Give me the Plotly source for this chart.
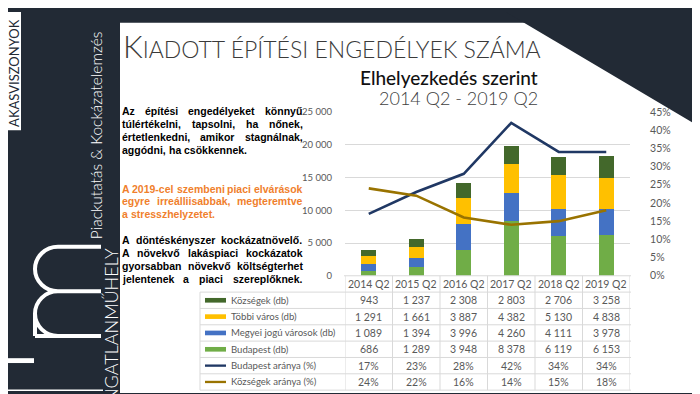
import plotly.graph_objects as go

# ---------------- data ----------------
categories = ["2014 Q2", "2015 Q2", "2016 Q2", "2017 Q2", "2018 Q2", "2019 Q2"]
kozsegek = [943, 1237, 2308, 2803, 2706, 3258]
tobbi_varos = [1291, 1661, 3887, 4382, 5130, 4838]
megyei_jogu = [1089, 1394, 3996, 4260, 4111, 3978]
budapest = [686, 1289, 3948, 8378, 6119, 6153]
budapest_arany = [17, 23, 28, 42, 34, 34]
kozsegek_arany = [24, 22, 16, 14, 15, 18]
left_ticks = [0, 5000, 10000, 15000, 20000, 25000]
right_ticks = [0, 5, 10, 15, 20, 25, 30, 35, 40, 45]

series_names = ["Községek (db)", "Többi város (db)", "Megyei jogú városok (db)",
                "Budapest (db)", "Budapest aránya (%)", "Községek aránya (%)"]

# ---------------- styles ----------------
W, H = 700, 394
DARK = "#222a35"
C_KOZ = "#43682b"
C_TOB = "#ffc000"
C_MEG = "#4472c4"
C_BUD = "#70ad47"
C_BUDA = "#203864"
C_KOZA = "#997300"
GRID = "#d9d9d9"
TXT = "#595959"
CAL = "Lato"


def X(px):
    return px / W


def Y(py):
    return 1 - py / H


def fmt(v):
    return f"{v:,}".replace(",", " ")


fig = go.Figure()

stack = [(series_names[3], budapest, C_BUD), (series_names[2], megyei_jogu, C_MEG),
         (series_names[1], tobbi_varos, C_TOB), (series_names[0], kozsegek, C_KOZ)]
for name, vals, col in stack:
    fig.add_trace(go.Bar(x=categories, y=vals, name=name, marker=dict(color=col, line=dict(width=0))))

fig.add_trace(go.Scatter(x=categories, y=budapest_arany, name=series_names[4], yaxis="y2",
                         mode="lines", line=dict(color=C_BUDA, width=2.6)))
fig.add_trace(go.Scatter(x=categories, y=kozsegek_arany, name=series_names[5], yaxis="y2",
                         mode="lines", line=dict(color=C_KOZA, width=2.6)))

PL, PR, PT, PB = 337, 622, 101, 270

shapes = []
ann = []

# background panels
shapes.append(dict(type="rect", xref="paper", yref="paper", x0=X(112), x1=X(690), y0=Y(391), y1=Y(9),
                   fillcolor="white", line=dict(width=0), layer="below"))
shapes.append(dict(type="path", xref="paper", yref="paper",
                   path=f"M {X(498)},{Y(-2)} L {X(700)},{Y(-2)} L {X(700)},{Y(113)} L {X(686)},{Y(113)} Z",
                   fillcolor=DARK, line=dict(width=0), layer="below"))
shapes.append(dict(type="rect", xref="paper", yref="paper", x0=X(687), x1=X(700), y0=Y(116), y1=Y(-2),
                   fillcolor="white", line=dict(width=0), layer="below"))
shapes.append(dict(type="rect", xref="paper", yref="paper", x0=X(0), x1=X(13), y0=Y(120), y1=Y(-2),
                   fillcolor="white", line=dict(width=0), layer="below"))
shapes.append(dict(type="rect", xref="paper", yref="paper", x0=X(-2), x1=X(26), y0=Y(360), y1=Y(355),
                   fillcolor="white", line=dict(width=0), layer="below"))
shapes.append(dict(type="line", xref="paper", yref="paper", x0=X(0), x1=X(95), y0=Y(388), y1=Y(388),
                   line=dict(color="white", width=1.5), layer="below"))


# logo "m" (rotated) drawn as strokes
def P(x, y):
    return f"{X(x)},{Y(y)}"


r = 23
k = 0.5523 * r
cx = 50
mpath = (f"M {P(93, 332)} L {P(cx, 332)} "
         f"C {P(cx - k, 332)} {P(cx - r, 309 + k)} {P(cx - r, 309)} "
         f"C {P(cx - r, 309 - k)} {P(cx - k, 286)} {P(cx, 286)} L {P(93, 286)} "
         f"M {P(cx, 286)} "
         f"C {P(cx - k, 286)} {P(cx - r, 263 + k)} {P(cx - r, 263)} "
         f"C {P(cx - r, 263 - k)} {P(cx - k, 240)} {P(cx, 240)} L {P(93, 240)} "
         f"M {P(cx - r, 332)} L {P(cx - r + 0.01, 309)}")
shapes.append(dict(type="path", xref="paper", yref="paper", path=mpath,
                   line=dict(color="white", width=4), layer="below"))
shapes.append(dict(type="line", xref="paper", yref="paper", x0=X(cx - r), x1=X(93), y0=Y(332), y1=Y(332),
                   line=dict(color="white", width=4), layer="below"))

# left band texts
ann.append(dict(text="AKASVISZONYOK", x=X(6.5), y=Y(119), xref="paper", yref="paper", xanchor="center",
                yanchor="bottom", textangle=-90, showarrow=False,
                font=dict(family=CAL, size=13, color=DARK)))
ann.append(dict(text="Piackutatás &amp; Kockázatelemzés", x=X(88), y=Y(125), xref="paper", yref="paper",
                xanchor="center", yanchor="middle", textangle=-90, showarrow=False,
                font=dict(family=CAL, size=15.5, color="white", weight=300)))
ann.append(dict(text="INGATLANMŰHELY", x=X(103.5), y=Y(239), xref="paper", yref="paper",
                xanchor="center", yanchor="top", textangle=-90, showarrow=False,
                font=dict(family=CAL, size=18, color="white", weight=300)))
ann.append(dict(text="FORRÁS: KSH.HU", x=X(694), y=Y(58), xref="paper", yref="paper",
                xanchor="center", yanchor="middle", textangle=-90, showarrow=False,
                font=dict(family=CAL, size=13, color="#2f6db5")))

# titles
ann.append(dict(text="<span style='font-size:31px'>K</span>IADOTT ÉPÍTÉSI ENGEDÉLYEK SZÁMA",
                x=X(113), y=Y(33), xref="paper", yref="paper", xanchor="left", yanchor="middle",
                showarrow=False, font=dict(family=CAL, size=23, color="#3a3a3a", weight=300)))
ann.append(dict(text="Elhelyezkedés szerint", x=X(532), y=Y(65), xref="paper", yref="paper",
                xanchor="right", yanchor="middle", showarrow=False,
                font=dict(family=CAL, size=19, color="#111111", weight=500)))
ann.append(dict(text="2014 Q2 - 2019 Q2", x=X(532), y=Y(87), xref="paper", yref="paper",
                xanchor="right", yanchor="middle", showarrow=False,
                font=dict(family=CAL, size=18, color="#404040", weight=300)))

# justified left text (Arial Bold metrics)
AW = {' ': 278, 'a': 556, 'b': 611, 'c': 556, 'd': 611, 'e': 556, 'f': 333, 'g': 611, 'h': 611, 'i': 278,
      'j': 278, 'k': 556, 'l': 278, 'm': 889, 'n': 611, 'o': 611, 'p': 611, 'q': 611, 'r': 389, 's': 556,
      't': 333, 'u': 611, 'v': 556, 'w': 778, 'x': 556, 'y': 556, 'z': 500, 'A': 722, ',': 278, '.': 278,
      '-': 333}
ACC = str.maketrans("éíúűőöóáü", "eiuuoooau")


def tw(s, fs):
    s = s.translate(ACC)
    return sum(AW.get(c, 556) for c in s) * fs / 1000


FS = 10.5
LX0, LX1 = 113, 293.5
paras = [
    ("#000000", [("Az építési engedélyeket könnyű", 100, True),
                 ("túlértékelni, tapsolni, ha nőnek,", 113.3, True),
                 ("értetlenkedni, amikor stagnálnak,", 126.7, True),
                 ("aggódni, ha csökkennek.", 140, False)]),
    ("#f07f2d", [("A 2019-cel szembeni piaci elvárások", 180, True),
                 ("egyre irreálliisabbak, megteremtve", 193.3, True),
                 ("a stresszhelyzetet.", 206.7, False)]),
    ("#000000", [("A döntéskényszer kockázatnövelő.", 233.3, True),
                 ("A növekvő lakáspiaci kockázatok", 246.7, True),
                 ("gyorsabban növekvő költségterhet", 260.2, True),
                 ("jelentenek a piaci szereplőknek.", 273.5, True)]),
]
for col, lines in paras:
    for text, yy, just in lines:
        words = text.split(" ")
        if just and len(words) > 1:
            tot = sum(tw(w, FS) for w in words)
            gap = (LX1 - LX0 - tot) / (len(words) - 1)
        else:
            gap = tw(" ", FS)
        xx = LX0
        for w in words:
            ann.append(dict(text=w, x=X(xx), y=Y(yy), xref="paper", yref="paper", xanchor="left",
                            yanchor="middle", showarrow=False, borderpad=0,
                            font=dict(family="Liberation Sans", size=FS, color=col, weight="bold")))
            xx += tw(w, FS) + gap

# ---------------- data table ----------------
ROW0 = 270
RH = 16.85
TL = 192
TR = 623
shapes.append(dict(type="line", xref="paper", yref="paper", x0=X(336), x1=X(TR), y0=Y(ROW0), y1=Y(ROW0),
                   line=dict(color=GRID, width=1)))
for kk in range(1, 8):
    yy = ROW0 + RH * kk
    shapes.append(dict(type="line", xref="paper", yref="paper", x0=X(TL), x1=X(TR), y0=Y(yy), y1=Y(yy),
                       line=dict(color=GRID, width=1)))
shapes.append(dict(type="line", xref="paper", yref="paper", x0=X(TL), x1=X(TL), y0=Y(ROW0 + RH),
                   y1=Y(ROW0 + 7 * RH), line=dict(color=GRID, width=1)))
for i in range(len(categories) + 1):
    shapes.append(dict(type="line", xref="x", yref="paper", x0=i - 0.5, x1=i - 0.5, y0=Y(ROW0),
                       y1=Y(ROW0 + 7 * RH), line=dict(color=GRID, width=1)))

# header row (category names)
for c in categories:
    ann.append(dict(text=c, x=c, y=Y(ROW0 + RH * 0.5), xref="x", yref="paper", xanchor="center",
                    yanchor="middle", showarrow=False, font=dict(family=CAL, size=10.5, color=TXT)))

rows = [(series_names[0], kozsegek, C_KOZ, "bar"), (series_names[1], tobbi_varos, C_TOB, "bar"),
        (series_names[2], megyei_jogu, C_MEG, "bar"), (series_names[3], budapest, C_BUD, "bar"),
        (series_names[4], budapest_arany, C_BUDA, "line"), (series_names[5], kozsegek_arany, C_KOZA, "line")]
for rr, (name, vals, col, kind) in enumerate(rows):
    yc = ROW0 + RH * (rr + 1.5)
    hh = 2.4 if kind == "bar" else 1.2
    shapes.append(dict(type="rect", xref="paper", yref="paper", x0=X(197), x1=X(218), y0=Y(yc + hh),
                       y1=Y(yc - hh), fillcolor=col, line=dict(width=0)))
    ann.append(dict(text=name, x=X(221), y=Y(yc), xref="paper", yref="paper", xanchor="left",
                    yanchor="middle", showarrow=False, font=dict(family=CAL, size=9.6, color=TXT)))
    for c, v in zip(categories, vals):
        t = f"{v}%" if kind == "line" else fmt(v)
        ann.append(dict(text=t, x=c, y=Y(yc), xref="x", yref="paper", xanchor="center",
                        yanchor="middle", showarrow=False, font=dict(family=CAL, size=10.5, color=TXT)))

fig.update_layout(
    width=W, height=H, margin=dict(l=0, r=0, t=0, b=0),
    paper_bgcolor=DARK, plot_bgcolor="rgba(0,0,0,0)",
    barmode="stack", bargap=0.68, showlegend=False,
    shapes=shapes, annotations=ann,
    xaxis=dict(domain=[X(PL), X(PR)], type="category", range=[-0.5, 5.5], showgrid=False, zeroline=False,
               showline=False, ticks="", showticklabels=False),
    yaxis=dict(domain=[Y(PB), Y(PT)], range=[0, 25000], tickvals=left_ticks,
               ticktext=[fmt(v) for v in left_ticks], gridcolor=GRID, gridwidth=1, zeroline=False,
               showline=False, ticks="outside", ticklen=10, tickcolor="rgba(0,0,0,0)",
               tickfont=dict(family=CAL, size=9.5, color=TXT)),
    yaxis2=dict(overlaying="y", side="right", range=[0, 45], tickvals=right_ticks,
                ticktext=[f"{v}%" for v in right_ticks], showgrid=False, zeroline=False, showline=False,
                ticks="outside", ticklen=17, tickcolor="rgba(0,0,0,0)",
                tickfont=dict(family=CAL, size=10.5, color=TXT)),
)

fig.write_html("out.html")
